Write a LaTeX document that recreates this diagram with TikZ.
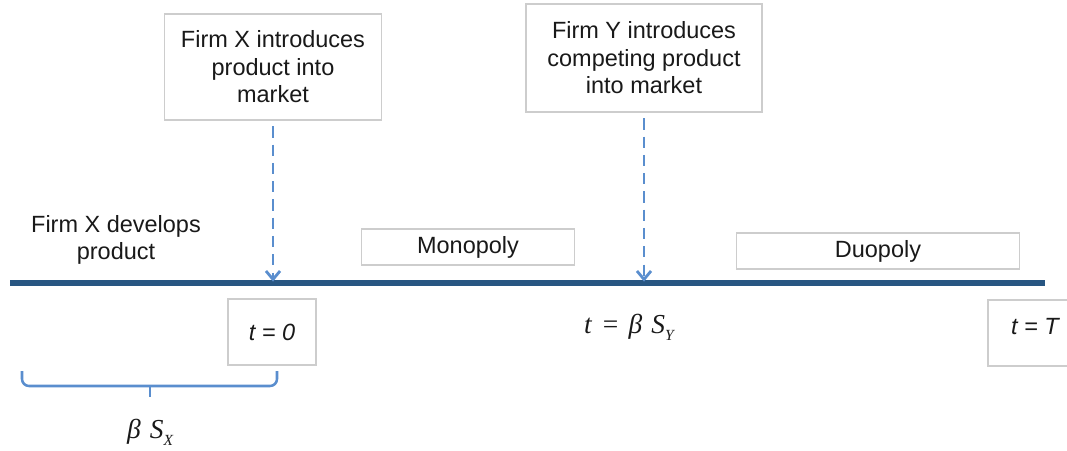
\documentclass[tikz,border=0pt]{standalone}
\usepackage{fontspec}
\setmainfont{Liberation Sans}
\newfontfamily\timesfont{Liberation Serif}
\usetikzlibrary{arrows.meta, calc}
\definecolor{axisblue}{RGB}{40,86,130}
\definecolor{cueblue}{RGB}{90,142,206}
\definecolor{boxgray}{RGB}{205,205,205}

\begin{document}
\begin{tikzpicture}[x=0.025cm, y=-0.025cm,
    every node/.style={font=\fontsize{16.7}{19.6}\selectfont, text=black!90},
    eventbox/.style={rectangle, draw=boxgray, line width=0.9pt,
                     fill=white, align=center, inner sep=2pt},
    phasebox/.style={rectangle, draw=boxgray, line width=0.9pt,
                     fill=white, align=center, inner sep=2pt,
                     minimum height=0.9cm},
    timebox/.style={rectangle, draw=boxgray, line width=0.9pt,
                    fill=white, inner sep=2pt,
                    minimum width=2.2cm, minimum height=1.65cm},
    mathlbl/.style={font=\timesfont\itshape\fontsize{19.5}{21}\selectfont},
    axis/.style={line width=4.5pt, color=axisblue},
    cue/.style={-{Straight Barb[length=6pt,width=10pt]}, line width=2pt,
                dash pattern=on 8pt off 5pt, color=cueblue,
                shorten <=4pt, shorten >=1pt},
    span/.style={line width=1.8pt, color=cueblue, rounded corners=5pt},
]
\useasboundingbox (0,0) rectangle (1067,450);

% ==========================================================
% Timeline
% ==========================================================
\coordinate (tl0) at (10,283);
\coordinate (tl1) at (1045,283);
\draw[axis] (tl0) -- (tl1);

% -------- events above the line -----------
\node[eventbox, minimum width=5.43cm, minimum height=2.65cm] (fxin) at (273,67)
    {Firm X introduces\\ product into\\ market};
\node[eventbox, minimum width=5.9cm, minimum height=2.7cm] (fyin) at (644,58)
    {Firm Y introduces\\ competing product\\ into market};

\draw[cue] (fxin.south) -- (fxin.south |- tl0);
\draw[cue] (fyin.south) -- (fyin.south |- tl0);

% -------- phases -----------
\node[align=center] (dev) at (116,240) {Firm X develops\\ product};
\node[phasebox, minimum width=5.33cm] (mono) at (468,247) {Monopoly};
\node[phasebox, minimum width=7.08cm] (duo) at (878,251) {Duopoly};

% -------- times below the line -----------
\node[timebox] (t0) at (272,332) {\itshape t = 0};
\node[mathlbl] (tby) at (629,327)
    {t\,\,=\,\,β\,\,S\raisebox{-5pt}{\fontsize{11}{11}\selectfont Y}};
\node[timebox, minimum width=2.5cm] (tT) at (1038,333) {};
\node (tTlbl) at (1035,327) {\itshape t = T};

% ==========================================================
% Development span
% ==========================================================
\coordinate (sp0) at (22,371);
\coordinate (sp1) at (277,371);
\coordinate (spm) at (150,386);
\draw[span] (sp0) |- (spm) -| (sp1);
\draw[span] (spm) -- ++(0,11);
\node[mathlbl] (bsx) at (150,432)
    {β\,\,S\raisebox{-5pt}{\fontsize{11}{11}\selectfont X}};

\end{tikzpicture}
\end{document}
